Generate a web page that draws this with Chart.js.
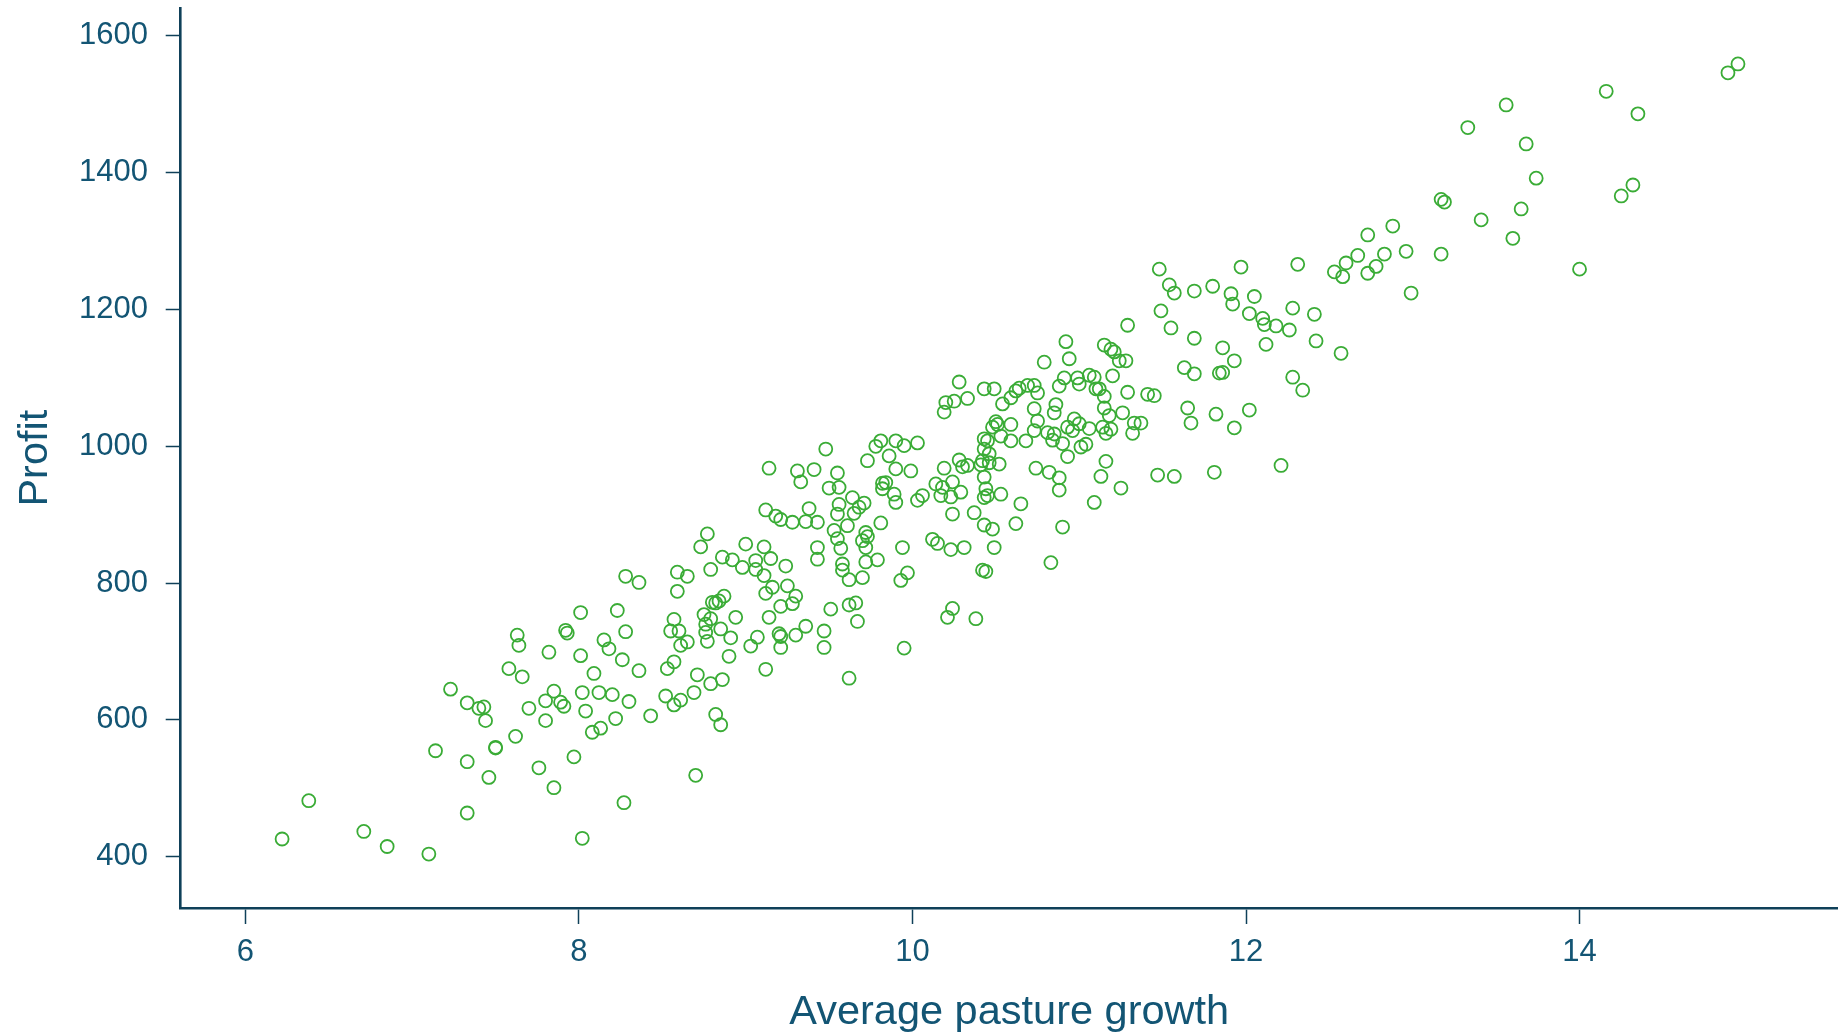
<!DOCTYPE html>
<html>
<head>
<meta charset="utf-8">
<script src="https://cdn.jsdelivr.net/npm/chart.js@4/dist/chart.umd.min.js"></script>
<style>
  html, body { margin: 0; padding: 0; background: #ffffff; }
  #wrap { width: 1846px; height: 1034px; position: relative; }
</style>
</head>
<body>
<div id="wrap"><canvas id="chart" width="1846" height="1034"></canvas></div>
<script>
// Average pasture growth (x) and profit (y) for each farm
const growth = [
  7.23, 7.14, 6.38, 6.22, 6.71, 6.85, 7.10,
  8.28, 8.01, 8.23, 7.63, 7.64, 7.92, 7.93, 8.28, 8.15, 8.18, 7.82, 8.01, 8.26,
  7.58, 7.66, 8.09, 7.85, 7.33, 7.40, 7.43, 7.44, 7.70, 7.80, 7.89, 7.91, 7.80,
  8.02, 8.12, 8.20, 8.30, 8.04, 8.22, 8.08, 8.13, 7.62, 7.50, 7.50, 7.33, 7.46,
  7.76, 7.97, 7.85, 8.27, 7.33, 8.02,
  9.14, 9.31, 9.33, 9.41, 9.12, 9.18, 9.21, 9.28, 9.38, 9.36, 9.43, 8.77, 8.73,
  9.00, 9.11, 9.43, 9.43, 8.86, 8.92, 8.98, 9.06, 9.06, 9.15, 9.24, 8.79, 8.59,
  8.65, 8.36, 9.11, 9.16, 9.12, 9.25, 9.30, 9.28, 9.21, 8.59, 8.87, 8.80, 8.82,
  8.84, 8.94, 8.57, 8.75, 8.79, 8.76, 8.76, 8.77, 9.14, 9.36, 9.30, 9.20, 9.21,
  9.21, 8.55, 8.60, 8.61, 8.65, 8.85, 8.91, 9.07, 9.03, 9.47, 9.47, 8.90, 9.12,
  8.57, 8.53, 8.36, 8.71, 8.79, 8.86, 8.69, 8.52, 8.57, 8.61, 8.43, 8.82, 8.85,
  8.70,
  10.28, 10.43, 10.49, 10.20, 10.25, 10.33, 10.19, 9.48, 9.73, 9.78, 9.81, 9.90,
  9.95, 10.03, 9.86, 9.90, 9.99, 9.55, 9.50, 9.56, 9.82, 9.84, 9.82, 9.89, 9.90,
  9.64, 9.56, 9.55, 9.71, 9.68, 9.65, 9.61, 9.53, 9.55, 9.57, 9.72, 9.73, 9.70,
  9.72, 9.81, 9.94, 9.58, 9.58, 9.62, 9.72, 9.79, 9.70, 9.93, 9.97, 9.51, 9.62,
  9.66, 9.67, 9.95, 9.62, 10.19, 10.28, 10.30, 10.33, 10.42, 10.41, 10.43, 10.43,
  10.43, 10.45, 10.46, 10.46, 10.52, 10.50, 10.51, 10.48, 10.53, 10.14, 10.18,
  10.17, 10.23, 10.24, 10.29, 10.03, 10.06, 10.24, 10.37, 10.44, 10.43, 10.45,
  10.53, 10.43, 10.48, 10.12, 10.15, 10.23, 10.31, 10.49, 10.42, 10.44, 10.24,
  10.21, 10.38, 10.54,
  11.48, 11.54, 11.57, 11.49, 11.55, 11.29, 10.92, 10.94, 10.79, 11.15, 11.19,
  11.21, 11.24, 11.28, 11.63, 11.20, 11.29, 11.41, 11.45, 11.65, 11.67, 10.59,
  10.62, 10.64, 10.69, 10.73, 10.75, 10.73, 10.75, 10.73, 10.68, 10.59, 10.59,
  10.91, 10.88, 10.99, 11.00, 11.06, 11.09, 11.10, 11.12, 11.15, 11.15, 11.18,
  11.26, 10.86, 10.85, 10.97, 11.00, 11.06, 10.93, 10.96, 11.14, 11.16, 11.19,
  11.33, 11.37, 11.32, 10.81, 10.85, 10.84, 10.90, 11.01, 11.04, 10.93, 11.16,
  11.13, 11.25, 11.47, 11.57, 10.74, 10.82, 10.88, 10.88, 10.65, 11.09, 10.62,
  10.90, 10.83,
  12.73, 12.67, 12.60, 12.53, 12.58, 12.73, 12.78, 12.31, 11.97, 11.69, 11.80,
  11.91, 11.92, 12.05, 12.02, 12.10, 12.11, 12.18, 12.26, 12.28, 12.41, 11.69,
  11.86, 12.12, 12.42, 12.57, 11.93, 11.69, 11.84, 11.86, 12.28, 12.34, 12.02,
  11.82, 11.93, 12.21, 11.81,
  13.56, 13.33, 13.68, 13.74, 13.17, 13.19, 13.65, 13.41, 13.60, 12.88, 12.83,
  12.96, 13.17, 12.99,
  14.95, 14.89, 14.16, 14.35, 14.32, 14.25, 14.00
];

const profit = [
  645, 555, 482, 426, 437, 415, 404,
  810, 757, 760, 724, 709, 731, 727, 729, 717, 704, 699, 694, 688,
  675, 663, 668, 642, 625, 617, 619, 599, 617, 628, 626, 620, 599,
  640, 640, 637, 627, 613, 602, 582, 588, 576, 559, 560, 539, 516,
  530, 546, 501, 479, 464, 427,
  968, 964, 948, 966, 907, 898, 893, 889, 909, 890, 889, 872, 853,
  857, 853, 852, 835, 838, 834, 823, 833, 820, 836, 825, 820, 816,
  810, 801, 811, 794, 785, 796, 781, 770, 766, 788, 781, 772, 771,
  774, 750, 747, 754, 748, 740, 728, 715, 750, 737, 724, 726, 722,
  706, 730, 730, 709, 714, 733, 720, 721, 708, 730, 706, 693, 674,
  685, 675, 672, 666, 653, 659, 640, 635, 622, 629, 606, 608, 593,
  519,
  1094, 1084, 1084, 1064, 1066, 1070, 1050, 996, 979, 1000, 1008, 1008,
  1001, 1005, 986, 967, 964, 961, 939, 940, 946, 947, 938, 930, 918,
  925, 915, 901, 917, 911, 902, 884, 877, 865, 851, 874, 868, 862,
  852, 888, 852, 828, 819, 805, 831, 834, 808, 804, 815, 762, 768,
  771, 744, 705, 661, 968, 980, 970, 972, 979, 973, 955, 996,
  1011, 1008, 989, 976, 974, 1036, 1032, 1028, 1015, 945, 940,
  928, 926, 948, 933, 921, 928, 901, 903, 938, 925, 928,
  930, 885, 879, 864, 858, 849, 852, 852, 819, 817, 763,
  750, 748, 1062,
  1259, 1236, 1224, 1198, 1173, 1177, 1153, 1128, 1123, 1148, 1142,
  1138, 1125, 1125, 1115, 1103, 1079, 1076, 1074, 1056, 1034, 1071,
  1081, 1085, 1089, 1089, 1078, 1055, 1037, 1023, 1008, 1032, 1008,
  1100, 1088, 1100, 1091, 1104, 1101, 1084, 1084, 1073, 1056, 1045,
  1049, 1061, 1049, 1040, 1033, 1026, 1028, 1023, 1028, 1019, 1025,
  1034, 1034, 1019, 1020, 1018, 1009, 1004, 999, 1003, 985, 978,
  956, 939, 958, 956, 968, 962, 954, 936, 916, 918, 887,
  882, 830,
  1309, 1279, 1268, 1255, 1248, 1253, 1263, 1266, 1262, 1227, 1234,
  1223, 1208, 1219, 1194, 1187, 1178, 1176, 1170, 1202, 1193, 1158,
  1144, 1149, 1154, 1136, 1125, 1106, 1107, 1108, 1101, 1082, 1053,
  1047, 1027, 972, 962,
  1499, 1466, 1442, 1392, 1361, 1357, 1347, 1331, 1304, 1322, 1281,
  1285, 1281, 1224,
  1559, 1546, 1519, 1486, 1382, 1366, 1259
];

const xTicks = [6, 8, 10, 12, 14];
const yTicks = [400, 600, 800, 1000, 1200, 1400, 1600];

const xTitle = 'Average pasture growth';
const yTitle = 'Profit';

const markerColor = '#3aac36';
const textColor = '#135574';
const lineColor = '#0f4059';
const fontFamily = "'Liberation Sans', Arial, Helvetica, sans-serif";

const points = growth.map((g, i) => ({ x: g, y: profit[i] }));

new Chart(document.getElementById('chart'), {
  type: 'scatter',
  data: {
    datasets: [{
      data: points,
      pointStyle: 'circle',
      pointRadius: 6.5,
      pointHoverRadius: 6.5,
      pointBorderWidth: 1.8,
      borderColor: markerColor,
      backgroundColor: 'rgba(0,0,0,0)'
    }]
  },
  options: {
    responsive: false,
    animation: false,
    events: [],
    clip: false,
    layout: { padding: { top: 6.7, right: 3, left: 0, bottom: 0 } },
    plugins: {
      legend: { display: false },
      tooltip: { enabled: false },
      title: { display: false }
    },
    scales: {
      x: {
        type: 'linear',
        position: 'bottom',
        min: 5.612,
        max: 15.548,
        afterBuildTicks: s => { s.ticks = xTicks.map(v => ({ value: v })); },
        afterFit: s => {
          s.height = 126;
          s.paddingLeft = 0;
          s.paddingRight = 0;
        },
        ticks: {
          autoSkip: false,
          maxRotation: 0,
          padding: 10,
          color: textColor,
          font: { family: fontFamily, size: 31 },
          callback: v => String(v)
        },
        grid: {
          drawOnChartArea: false,
          drawTicks: true,
          tickLength: 16,
          tickWidth: 1.5,
          tickColor: lineColor
        },
        border: { display: true, color: lineColor, width: 2.6 },
        title: {
          display: true,
          text: xTitle,
          color: textColor,
          font: { family: fontFamily, size: 41.5, lineHeight: 1.05 },
          padding: { top: 0, bottom: 0 }
        }
      },
      y: {
        type: 'linear',
        position: 'left',
        min: 325.1,
        max: 1640.3,
        afterBuildTicks: s => { s.ticks = yTicks.map(v => ({ value: v })); },
        afterFit: s => {
          s.width = 180.7;
          s.paddingTop = 0;
          s.paddingBottom = 0;
        },
        ticks: {
          autoSkip: false,
          padding: 17.7,
          color: textColor,
          font: { family: fontFamily, size: 31 },
          callback: v => String(v)
        },
        grid: {
          drawOnChartArea: false,
          drawTicks: true,
          tickLength: 15,
          tickWidth: 1.5,
          tickColor: lineColor
        },
        border: { display: true, color: lineColor, width: 2.6 },
        title: {
          display: true,
          text: yTitle,
          color: textColor,
          font: { family: fontFamily, size: 41.5, lineHeight: 1.2 },
          padding: { top: 11, bottom: 0 }
        }
      }
    }
  }
});
</script>
</body>
</html>
